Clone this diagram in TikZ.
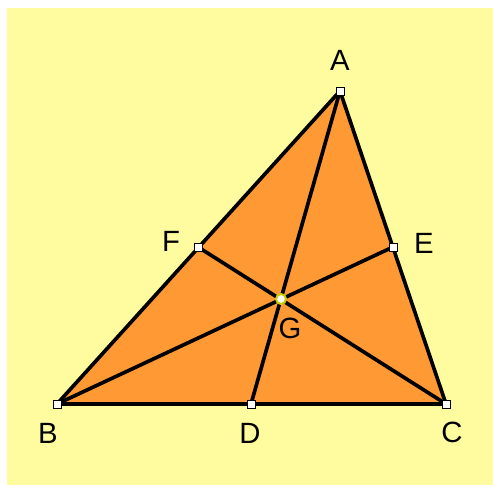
\documentclass[tikz,border=0pt]{standalone}
\usepackage{fontspec}
\setmainfont{Liberation Sans}
\definecolor{bgyellow}{RGB}{255,252,160}
\definecolor{triorange}{RGB}{255,153,51}
\definecolor{gring}{RGB}{200,205,0}
\usetikzlibrary{positioning}
\tikzset{
  pt/.style={draw=black, fill=white, rectangle, inner sep=0pt, minimum size=2.4mm, line width=0.3mm},
  lbl/.style={inner sep=0pt, font=\fontsize{25}{30}\selectfont},
  seg/.style={line width=1.1mm, line cap=round}
}
\begin{document}
\begin{tikzpicture}[x=0.3mm, y=-0.3mm]
  % Background
  \useasboundingbox (0,0) rectangle (493,485);
  \fill[bgyellow] (7,8) rectangle (493,485);
  % Vertices, midpoints and centroid
  \coordinate (A) at (340,91);
  \coordinate (B) at (57,404);
  \coordinate (C) at (446,404);
  \coordinate (D) at (251,404);
  \coordinate (E) at (393,247);
  \coordinate (F) at (198,247);
  \coordinate (G) at (281,299);
  % Triangle
  \fill[triorange] (A) -- (B) -- (C) -- cycle;
  \draw[seg] (A) -- (B) -- (C) -- cycle;
  % Medians
  \draw[seg] (A) -- (D);
  \draw[seg] (B) -- (E);
  \draw[seg] (C) -- (F);
  % Points
  \node[pt] (pA) at (A) {};
  \node[pt] (pB) at (B) {};
  \node[pt] (pC) at (C) {};
  \node[pt] (pD) at (D) {};
  \node[pt] (pE) at (E) {};
  \node[pt] (pF) at (F) {};
  \node[pt, draw=gring, circle, minimum size=3mm, line width=0.6mm] (pG) at (G) {};
  % Labels
  \node[lbl] (lA) at (340,60) {A};
  \node[lbl] (lB) at (48,433) {B};
  \node[lbl] (lC) at (452,432) {C};
  \node[lbl] (lD) at (250,433) {D};
  \node[lbl] (lE) at (424,243) {E};
  \node[lbl] (lF) at (171,241) {F};
  \node[lbl] (lG) at (290,328) {G};
\end{tikzpicture}
\end{document}
